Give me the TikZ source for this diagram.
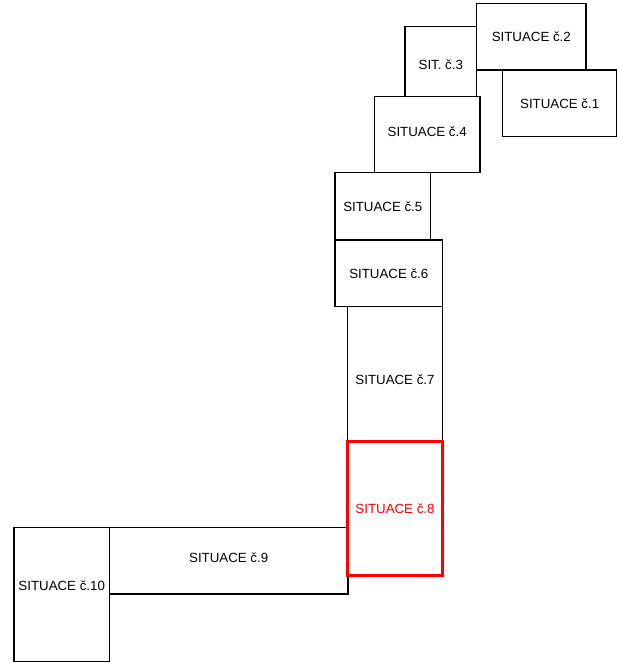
\documentclass[tikz,border=0pt]{standalone}
\usepackage{fontspec}
\setmainfont{Liberation Sans}

\begin{document}
\begin{tikzpicture}[x=1pt,y=-1pt,
  sit/.style={draw, line width=1.3pt, inner sep=0pt, font=\fontsize{13.3}{15}\selectfont},
  sitred/.style={sit, draw=red, text=red, line width=2.8pt},
  every label/.style={font=\fontsize{13.3}{15}\selectfont, inner sep=0pt}]
\useasboundingbox (0,0) rectangle (617,663);

\node[sit, minimum width=109.3pt, minimum height=66.7pt] (s2) at (531.3,36.7) {SITUACE č.2};
\node[sit, minimum width=71.7pt, minimum height=70pt,
  label={[yshift=-3pt]center:SIT. č.3}] (s3) at (440.8,61.7) {};
\node[sit, minimum width=114pt, minimum height=66.7pt] (s1) at (559.7,103.3) {SITUACE č.1};
\node[sit, minimum width=105.7pt, minimum height=76pt,
  label={[yshift=3pt]center:SITUACE č.4}] (s4) at (427.2,134.7) {};

\node[sit, minimum width=95.7pt, minimum height=67.3pt] (s5) at (382.8,206.3) {SITUACE č.5};
\node[sit, minimum width=107.7pt, minimum height=66.7pt] (s6) at (388.8,273.3) {SITUACE č.6};
\node[sit, minimum width=95.4pt, minimum height=135pt,
  label={[yshift=-6pt]center:SITUACE č.7}] (s7) at (395,374.2) {};

\node[sit, minimum width=238.7pt, minimum height=66.7pt,
  label={[yshift=3pt]center:SITUACE č.9}] (s9) at (228.7,560.7) {};
\node[sit, minimum width=95.3pt, minimum height=134.4pt,
  label={[yshift=9pt]center:SITUACE č.10}] (s10) at (61.7,594.5) {};

\node[sitred, minimum width=95.4pt, minimum height=134pt] (s8) at (395,508.7) {SITUACE č.8};
\end{tikzpicture}
\end{document}
